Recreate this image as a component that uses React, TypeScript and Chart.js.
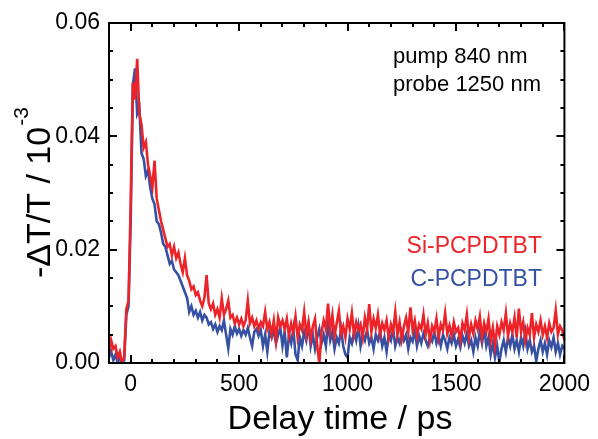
import React, { useEffect, useRef } from "react";
import { Chart, registerables } from "chart.js";

Chart.register(...registerables);

// Delay time (ps)
const TIME = [
  -100, -90, -80, -70, -60, -50, -40, -30, -20, -10,
  0, 10, 20, 30, 40, 50, 60, 70, 80, 90, 100,
  110, 120, 130, 140, 150, 160, 170, 180, 190, 200,
  210, 220, 230, 240, 250, 260, 270, 280, 290, 300,
  310, 320, 330, 340, 350, 360, 370, 380, 390, 400,
  410, 420, 430, 440, 450, 460, 470, 480, 490, 500,
  510, 520, 530, 540, 550, 560, 570, 580, 590, 600,
  610, 620, 630, 640, 650, 660, 670, 680, 690, 700,
  710, 720, 730, 740, 750, 760, 770, 780, 790, 800,
  810, 820, 830, 840, 850, 860, 870, 880, 890, 900,
  910, 920, 930, 940, 950, 960, 970, 980, 990, 1000,
  1010, 1020, 1030, 1040, 1050, 1060, 1070, 1080, 1090, 1100,
  1110, 1120, 1130, 1140, 1150, 1160, 1170, 1180, 1190, 1200,
  1210, 1220, 1230, 1240, 1250, 1260, 1270, 1280, 1290, 1300,
  1310, 1320, 1330, 1340, 1350, 1360, 1370, 1380, 1390, 1400,
  1410, 1420, 1430, 1440, 1450, 1460, 1470, 1480, 1490, 1500,
  1510, 1520, 1530, 1540, 1550, 1560, 1570, 1580, 1590, 1600,
  1610, 1620, 1630, 1640, 1650, 1660, 1670, 1680, 1690, 1700,
  1710, 1720, 1730, 1740, 1750, 1760, 1770, 1780, 1790, 1800,
  1810, 1820, 1830, 1840, 1850, 1860, 1870, 1880, 1890, 1900,
  1910, 1920, 1930, 1940, 1950, 1960, 1970, 1980, 1990, 2000,
];

// -ΔT/T for Si-PCPDTBT (red)
const SI_PCPDTBT = [
  0.0015, 0.0040, 0.0025, 0.0030, 0.0010, 0.0020, 0.0000, 0.0010, 0.0095, 0.0110,
  0.0280, 0.0495, 0.0465, 0.0537, 0.0440, 0.0420, 0.0380, 0.0390, 0.0350, 0.0330, 0.0310,
  0.0357, 0.0290, 0.0270, 0.0250, 0.0235, 0.0220, 0.0205, 0.0210, 0.0190, 0.0205,
  0.0185, 0.0195, 0.0175, 0.0160, 0.0185, 0.0155, 0.0145, 0.0130, 0.0135, 0.0120,
  0.0125, 0.0110, 0.0100, 0.0115, 0.0155, 0.0105, 0.0095, 0.0105, 0.0085, 0.0095,
  0.0080, 0.0114, 0.0085, 0.0095, 0.0110, 0.0080, 0.0085, 0.0070, 0.0080, 0.0068,
  0.0078, 0.0065, 0.0075, 0.0110, 0.0070, 0.0080, 0.0065, 0.0075, 0.0060, 0.0072,
  0.0065, 0.0090, 0.0060, 0.0072, 0.0050, 0.0075, 0.0040, 0.0080, 0.0065, 0.0075,
  0.0060, 0.0078, 0.0048, 0.0070, 0.0055, 0.0082, 0.0045, 0.0068, 0.0058, 0.0090,
  0.0050, 0.0072, 0.0042, 0.0065, 0.0078, 0.0030, 0.0000, 0.0055, 0.0075, 0.0060,
  0.0105, 0.0058, 0.0085, 0.0048, 0.0070, 0.0092, 0.0052, 0.0065, 0.0045, 0.0078,
  0.0060, 0.0088, 0.0050, 0.0072, 0.0058, 0.0068, 0.0045, 0.0080, 0.0060, 0.0104,
  0.0055, 0.0078, 0.0062, 0.0085, 0.0050, 0.0070, 0.0058, 0.0075, 0.0045, 0.0068,
  0.0055, 0.0090, 0.0050, 0.0072, 0.0042, 0.0065, 0.0080, 0.0055, 0.0098, 0.0058,
  0.0075, 0.0048, 0.0068, 0.0060, 0.0085, 0.0050, 0.0070, 0.0040, 0.0065, 0.0055,
  0.0078, 0.0045, 0.0068, 0.0058, 0.0088, 0.0052, 0.0066, 0.0048, 0.0072, 0.0055,
  0.0062, 0.0040, 0.0070, 0.0058, 0.0085, 0.0045, 0.0068, 0.0052, 0.0075, 0.0060,
  0.0082, 0.0045, 0.0070, 0.0055, 0.0078, 0.0040, 0.0062, 0.0030, 0.0065, 0.0050,
  0.0072, 0.0058, 0.0088, 0.0048, 0.0070, 0.0055, 0.0080, 0.0045, 0.0096, 0.0055,
  0.0072, 0.0040, 0.0062, 0.0050, 0.0088, 0.0045, 0.0068, 0.0055, 0.0075, 0.0050,
  0.0065, 0.0045, 0.0070, 0.0055, 0.0062, 0.0093, 0.0050, 0.0065, 0.0058, 0.0040,
];

// -ΔT/T for C-PCPDTBT (blue)
const C_PCPDTBT = [
  0.0010, 0.0020, 0.0005, 0.0015, 0.0000, 0.0010, 0.0000, 0.0005, 0.0085, 0.0100,
  0.0250, 0.0490, 0.0520, 0.0440, 0.0450, 0.0370, 0.0360, 0.0330, 0.0340, 0.0310, 0.0290,
  0.0280, 0.0250, 0.0245, 0.0230, 0.0210, 0.0205, 0.0190, 0.0175, 0.0180, 0.0165,
  0.0160, 0.0155, 0.0145, 0.0135, 0.0125, 0.0115, 0.0090, 0.0100, 0.0085, 0.0092,
  0.0080, 0.0090, 0.0075, 0.0085, 0.0080, 0.0068, 0.0072, 0.0060, 0.0068, 0.0055,
  0.0065, 0.0058, 0.0075, 0.0050, 0.0026, 0.0060, 0.0050, 0.0065, 0.0052, 0.0060,
  0.0048, 0.0058, 0.0050, 0.0062, 0.0045, 0.0030, 0.0055, 0.0060, 0.0048, 0.0058,
  0.0030, 0.0050, 0.0020, 0.0055, 0.0045, 0.0058, 0.0035, 0.0050, 0.0062, 0.0030,
  0.0055, 0.0010, 0.0050, 0.0035, 0.0060, 0.0015, 0.0005, 0.0045, 0.0030, 0.0055,
  0.0040, 0.0068, 0.0030, 0.0050, 0.0025, 0.0045, 0.0060, 0.0035, 0.0050, 0.0030,
  0.0070, 0.0040, 0.0055, 0.0025, 0.0045, 0.0035, 0.0060, 0.0030, 0.0015, 0.0010,
  0.0045, 0.0035, 0.0055, 0.0040, 0.0065, 0.0030, 0.0050, 0.0040, 0.0058, 0.0035,
  0.0045, 0.0025, 0.0050, 0.0040, 0.0055, 0.0030, 0.0045, 0.0020, 0.0050, 0.0040,
  0.0060, 0.0030, 0.0045, 0.0035, 0.0055, 0.0040, 0.0050, 0.0025, 0.0045, 0.0038,
  0.0058, 0.0030, 0.0048, 0.0035, 0.0052, 0.0040, 0.0030, 0.0045, 0.0038, 0.0055,
  0.0035, 0.0048, 0.0030, 0.0050, 0.0040, 0.0025, 0.0045, 0.0035, 0.0050, 0.0030,
  0.0042, 0.0028, 0.0048, 0.0035, 0.0052, 0.0030, 0.0040, 0.0020, 0.0045, 0.0030,
  0.0055, 0.0035, 0.0060, 0.0030, 0.0045, 0.0015, 0.0035, 0.0010, 0.0030, 0.0002,
  0.0025, 0.0040, 0.0020, 0.0045, 0.0030, 0.0050, 0.0025, 0.0040, 0.0020, 0.0045,
  0.0030, 0.0055, 0.0025, 0.0040, 0.0020, 0.0030, 0.0003, 0.0025, 0.0040, 0.0020,
  0.0035, 0.0015, 0.0040, 0.0028, 0.0045, 0.0020, 0.0035, 0.0015, 0.0030, 0.0025,
];

const X_TICKS = [0, 500, 1000, 1500, 2000];
const X_MINOR = [-100, 0, 100, 200, 300, 400, 500, 600, 700, 800, 900, 1000, 1100, 1200, 1300, 1400, 1500, 1600, 1700, 1800, 1900, 2000];
const Y_TICKS = [0, 0.02, 0.04, 0.06];
const Y_MINOR = [0, 0.005, 0.01, 0.015, 0.02, 0.025, 0.03, 0.035, 0.04, 0.045, 0.05, 0.055, 0.06];

const SERIES_NAMES = ["Si-PCPDTBT", "C-PCPDTBT"];
const NOTE_LINES = ["pump 840 nm", "probe 1250 nm"];
const X_TITLE = "Delay time / ps";
const Y_TITLE_MAIN = "-\u0394T/T / 10";
const Y_TITLE_SUP = "-3";

const RED = "#ec2329";
const BLUE = "#3650a3";
const FONT = "'Liberation Sans', Arial, Helvetica, sans-serif";

const overlay = {
  id: "overlay",
  afterDraw(chart: any) {
    const { ctx, chartArea: a, scales } = chart;
    const x = scales.x;
    const y = scales.y;
    ctx.save();
    ctx.strokeStyle = "#000";
    ctx.lineWidth = 2;
    ctx.lineCap = "butt";
    ctx.strokeRect(a.left, a.top, a.right - a.left, a.bottom - a.top);
    ctx.beginPath();
    for (const v of X_MINOR) {
      const px = Math.round(x.getPixelForValue(v));
      const len = X_TICKS.includes(v) ? 8 : 4;
      ctx.moveTo(px, a.bottom);
      ctx.lineTo(px, a.bottom - len);
      ctx.moveTo(px, a.top);
      ctx.lineTo(px, a.top + len);
    }
    for (const v of Y_MINOR) {
      const py = Math.round(y.getPixelForValue(v));
      const len = Y_TICKS.some((t) => Math.abs(t - v) < 1e-9) ? 8 : 4;
      ctx.moveTo(a.left, py);
      ctx.lineTo(a.left + len, py);
      ctx.moveTo(a.right, py);
      ctx.lineTo(a.right - len, py);
    }
    ctx.stroke();

    // annotations
    ctx.fillStyle = "#000";
    ctx.textBaseline = "alphabetic";
    ctx.textAlign = "left";
    ctx.font = `22px ${FONT}`;
    ctx.fillText(NOTE_LINES[0], 393, 63);
    ctx.fillText(NOTE_LINES[1], 393, 91);

    ctx.textAlign = "right";
    ctx.font = `23px ${FONT}`;
    ctx.fillStyle = RED;
    ctx.fillText(SERIES_NAMES[0], 542, 253);
    ctx.fillStyle = BLUE;
    ctx.fillText(SERIES_NAMES[1], 542, 286);

    // x title
    ctx.fillStyle = "#000";
    ctx.font = `34px ${FONT}`;
    ctx.textAlign = "center";
    ctx.fillText(X_TITLE, 340, 429);

    // y title with superscript
    ctx.font = `34px ${FONT}`;
    const w1 = ctx.measureText(Y_TITLE_MAIN).width;
    ctx.save();
    ctx.translate(50, 278);
    ctx.rotate(-Math.PI / 2);
    ctx.textAlign = "left";
    ctx.fillText(Y_TITLE_MAIN, 0, 0);
    ctx.font = `21px ${FONT}`;
    ctx.fillText(Y_TITLE_SUP, w1 + 1, -22);
    ctx.restore();

    ctx.restore();
  },
};

export default function App() {
  const ref = useRef<HTMLCanvasElement | null>(null);

  useEffect(() => {
    document.body.style.margin = "0";
    const canvas = ref.current;
    if (!canvas) return;
    const chart = new Chart(canvas, {
      type: "line",
      data: {
        datasets: [
          {
            label: SERIES_NAMES[0],
            data: TIME.map((t, i) => ({ x: t, y: SI_PCPDTBT[i] })),
            borderColor: RED,
            backgroundColor: RED,
            borderWidth: 2.6,
            pointRadius: 0,
            tension: 0,
          },
          {
            label: SERIES_NAMES[1],
            data: TIME.map((t, i) => ({ x: t, y: C_PCPDTBT[i] })),
            borderColor: BLUE,
            backgroundColor: BLUE,
            borderWidth: 2.6,
            pointRadius: 0,
            tension: 0,
          },
        ],
      },
      options: {
        animation: false,
        responsive: false,
        devicePixelRatio: 1,
        layout: { padding: { left: 0, right: 27, top: 23, bottom: 0 } },
        plugins: {
          legend: { display: false },
          tooltip: { enabled: false },
          title: { display: false },
        },
        scales: {
          x: {
            type: "linear",
            min: -100,
            max: 2000,
            grid: { display: false, drawTicks: false },
            border: { display: false },
            afterFit: (s: any) => {
              s.height = 76;
            },
            afterBuildTicks: (s: any) => {
              s.ticks = X_TICKS.map((v) => ({ value: v }));
            },
            ticks: {
              color: "#000",
              padding: 8,
              maxRotation: 0,
              autoSkip: false,
              font: { family: FONT, size: 23 },
              callback: (v: any) => String(v),
            },
          },
          y: {
            type: "linear",
            min: 0,
            max: 0.06,
            grid: { display: false, drawTicks: false },
            border: { display: false },
            afterFit: (s: any) => {
              s.width = 109;
            },
            afterBuildTicks: (s: any) => {
              s.ticks = Y_TICKS.map((v) => ({ value: v }));
            },
            ticks: {
              color: "#000",
              padding: 9,
              autoSkip: false,
              font: { family: FONT, size: 23 },
              callback: (v: any) => Number(v).toFixed(2),
            },
          },
        },
      },
      plugins: [overlay],
    });
    return () => chart.destroy();
  }, []);

  return (
    <div style={{ width: 598, height: 439 }}>
      <canvas ref={ref} width={598} height={439} style={{ display: "block" }} />
    </div>
  );
}
